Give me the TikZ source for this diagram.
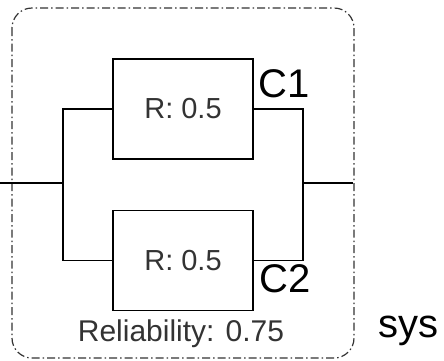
\documentclass[tikz,border=0pt]{standalone}
\usepackage{fontspec}
\setmainfont{Liberation Sans}
\usetikzlibrary{positioning}

\begin{document}
\begin{tikzpicture}[
    x=1pt, y=-1pt,
    compbox/.style={rectangle, draw=black, line width=1.3pt, minimum width=140pt, minimum height=100pt, inner sep=0pt, text=black!80, font=\fontsize{29}{34}\selectfont},
    tag/.style={inner sep=0pt, anchor=base west, font=\fontsize{40}{46}\selectfont},
    wire/.style={draw=black, line width=1.3pt},
    sysborder/.style={draw=black!80, line width=1.2pt, rounded corners=20pt, dash pattern=on 8pt off 3pt on 1.5pt off 3pt}
]
    \useasboundingbox (0,0) rectangle (444,360);

    % system border
    \draw [sysborder] (12,8) rectangle (354,358);

    % components
    \node [compbox] (c1) at (183,109) {R: 0.5};
    \node [compbox, below=50pt of c1] (c2) {R: 0.5};
    \node [tag] (t1) at (258,97) {C1};
    \node [tag] (t2) at (259,292) {C2};
    \node [tag] (tsys) at (378,337) {sys};
    \node [inner sep=0pt, anchor=base, text=black!80, font=\fontsize{30}{36}\selectfont] (rel) at (181,341) {Reliability: 0.75};

    % wiring
    \coordinate (in) at (0,183);
    \coordinate (jl) at (63,183);
    \coordinate (jr) at (303,183);
    \coordinate (out) at (353,183);
    \draw [wire] (in) -- (jl);
    \draw [wire] (c1.west) -| (jl);
    \draw [wire] (c2.west) -| (jl);
    \draw [wire] (c1.east) -| (jr);
    \draw [wire] (c2.east) -| (jr);
    \draw [wire] (jr) -- (out);
\end{tikzpicture}
\end{document}
